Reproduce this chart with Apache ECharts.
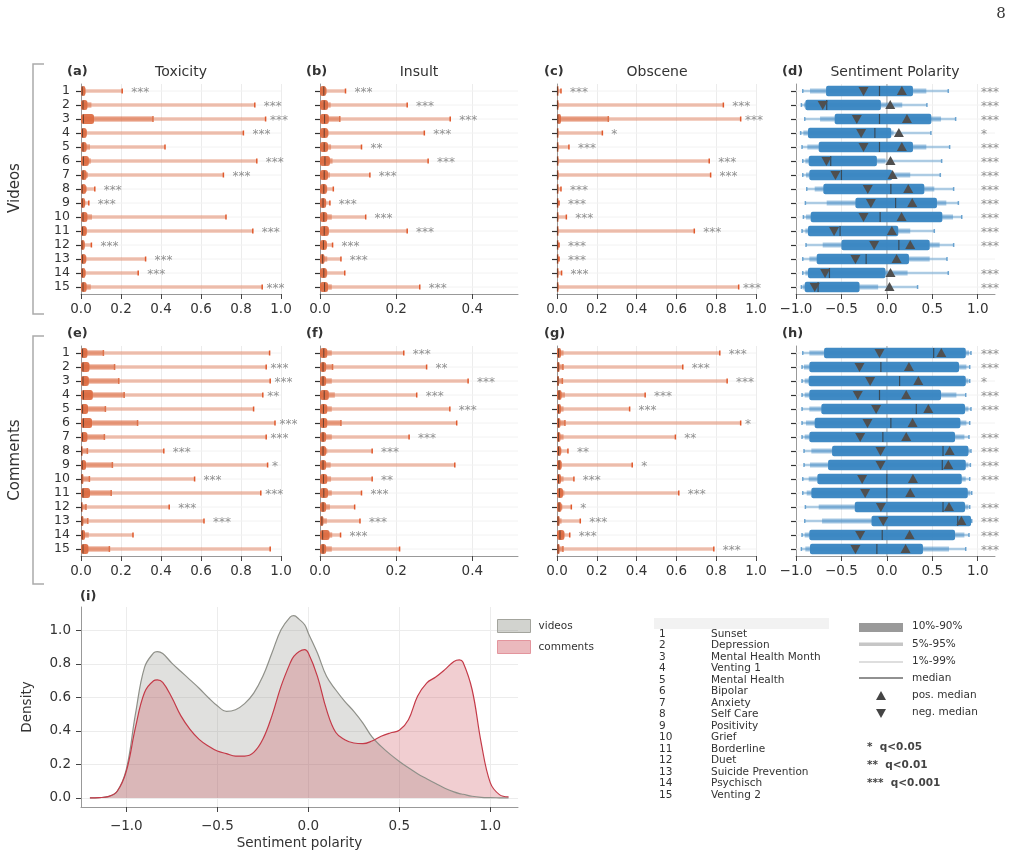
<!DOCTYPE html>
<html>
<head>
<meta charset="utf-8">
<script src="https://cdn.jsdelivr.net/npm/echarts@6.0.0/dist/echarts.min.js"></script>
<style>
html, body { margin: 0; padding: 0; background: #fff; }
#chart { width: 1014px; height: 856px; }
</style>
</head>
<body>
<div id="chart"></div>
<script>
// Data
const rowLabels = ['1','2','3','4','5','6','7','8','9','10','11','12','13','14','15'];
const topicNames = ['Sunset','Depression','Mental Health Month','Venting 1','Mental Health','Bipolar',
    'Anxiety','Self Care','Positivity','Grief','Borderline','Duet','Suicide Prevention','Psychisch','Venting 2'];

// score panels: [median, p90, p95, p99]  (lower quantiles are 0)
const toxicityVideos = [
    [0.006,0.022,0.022,0.206],[0.010,0.032,0.052,0.869],[0.012,0.065,0.360,0.923],[0.008,0.028,0.030,0.812],
    [0.010,0.028,0.045,0.420],[0.012,0.039,0.049,0.879],[0.010,0.028,0.035,0.712],[0.006,0.025,0.030,0.069],
    [0.006,0.020,0.022,0.039],[0.010,0.032,0.055,0.725],[0.008,0.028,0.030,0.859],[0.005,0.018,0.020,0.052],
    [0.008,0.025,0.028,0.323],[0.006,0.022,0.024,0.286],[0.010,0.028,0.049,0.906]];
const insultVideos = [
    [0.010,0.016,0.018,0.067],[0.011,0.021,0.028,0.229],[0.012,0.023,0.052,0.342],[0.011,0.021,0.023,0.274],
    [0.011,0.021,0.029,0.109],[0.013,0.026,0.033,0.284],[0.011,0.021,0.026,0.131],[0.010,0.018,0.019,0.035],
    [0.008,0.016,0.016,0.026],[0.010,0.019,0.031,0.120],[0.011,0.023,0.023,0.229],[0.009,0.018,0.018,0.033],
    [0.007,0.012,0.019,0.055],[0.010,0.018,0.019,0.065],[0.012,0.021,0.031,0.262]];
const obsceneVideos = [
    [0.002,0.005,0.008,0.020],[0.002,0.006,0.010,0.836],[0.004,0.020,0.258,0.923],[0.002,0.005,0.008,0.228],
    [0.002,0.005,0.008,0.060],[0.002,0.006,0.010,0.765],[0.002,0.006,0.010,0.772],[0.002,0.005,0.008,0.020],
    [0.002,0.004,0.006,0.010],[0.002,0.005,0.008,0.047],[0.002,0.005,0.008,0.690],[0.002,0.004,0.006,0.010],
    [0.002,0.004,0.006,0.010],[0.002,0.005,0.008,0.023],[0.002,0.006,0.010,0.913]];
const toxicityComments = [
    [0.008,0.032,0.112,0.943],[0.010,0.042,0.168,0.926],[0.010,0.039,0.189,0.946],[0.012,0.059,0.216,0.909],
    [0.008,0.035,0.122,0.863],[0.012,0.055,0.283,0.970],[0.008,0.032,0.117,0.926],[0.003,0.008,0.032,0.414],
    [0.006,0.025,0.157,0.933],[0.004,0.012,0.042,0.568],[0.010,0.045,0.151,0.899],[0.003,0.008,0.025,0.441],
    [0.004,0.012,0.034,0.615],[0.006,0.020,0.039,0.260],[0.010,0.037,0.142,0.946]];
const insultComments = [
    [0.010,0.019,0.031,0.220],[0.008,0.016,0.033,0.280],[0.008,0.016,0.031,0.389],[0.011,0.023,0.039,0.254],
    [0.009,0.019,0.031,0.341],[0.009,0.019,0.055,0.359],[0.008,0.016,0.031,0.234],[0.008,0.016,0.019,0.137],
    [0.008,0.016,0.028,0.354],[0.009,0.019,0.029,0.137],[0.010,0.021,0.031,0.109],[0.008,0.016,0.026,0.091],
    [0.005,0.009,0.018,0.105],[0.007,0.025,0.032,0.054],[0.008,0.016,0.031,0.209]];
const obsceneComments = [
    [0.008,0.020,0.033,0.818],[0.006,0.013,0.030,0.632],[0.005,0.010,0.027,0.855],[0.010,0.023,0.040,0.443],
    [0.008,0.020,0.033,0.365],[0.007,0.017,0.040,0.923],[0.007,0.017,0.033,0.595],[0.008,0.020,0.023,0.055],
    [0.010,0.023,0.023,0.378],[0.008,0.020,0.033,0.085],[0.012,0.030,0.037,0.612],[0.010,0.023,0.027,0.072],
    [0.005,0.013,0.023,0.117],[0.015,0.037,0.037,0.064],[0.005,0.013,0.030,0.788]];

// sentiment panels: [p1, p5, p10, median, p90, p95, p99, neg. median, pos. median]
const sentimentVideos = [
    [-0.926,-0.846,-0.669,-0.081,0.287,0.434,0.676,-0.257,0.165],
    [-0.941,-0.912,-0.897,-0.662,-0.066,0.169,0.441,-0.706,0.037],
    [-0.904,-0.735,-0.574,-0.081,0.489,0.596,0.757,-0.331,0.221],
    [-0.949,-0.919,-0.868,-0.132,0.048,0.074,0.485,-0.283,0.132],
    [-0.934,-0.875,-0.750,-0.081,0.287,0.434,0.691,-0.257,0.165],
    [-0.926,-0.897,-0.860,-0.618,-0.110,-0.015,0.603,-0.665,0.040],
    [-0.926,-0.890,-0.853,-0.500,0.059,0.257,0.588,-0.566,0.063],
    [-0.882,-0.794,-0.699,0.044,0.412,0.522,0.735,-0.210,0.235],
    [-0.897,-0.662,-0.346,0.096,0.551,0.654,0.787,-0.176,0.279],
    [-0.919,-0.890,-0.838,-0.074,0.610,0.728,0.824,-0.257,0.162],
    [-0.934,-0.897,-0.868,-0.515,0.125,0.257,0.522,-0.581,0.055],
    [-0.890,-0.706,-0.500,0.132,0.471,0.581,0.735,-0.140,0.257],
    [-0.926,-0.853,-0.772,-0.228,0.243,0.471,0.662,-0.346,0.107],
    [-0.926,-0.897,-0.868,-0.632,-0.015,0.228,0.676,-0.680,0.040],
    [-0.941,-0.926,-0.904,-0.757,-0.301,-0.096,0.338,-0.794,0.029]];
const sentimentComments = [
    [-0.926,-0.853,-0.691,0.515,0.868,0.904,0.926,-0.081,0.599],
    [-0.934,-0.912,-0.853,-0.066,0.794,0.875,0.912,-0.301,0.243],
    [-0.934,-0.904,-0.860,0.140,0.868,0.897,0.912,-0.184,0.346],
    [-0.934,-0.904,-0.853,-0.081,0.596,0.765,0.868,-0.320,0.213],
    [-0.934,-0.853,-0.721,0.324,0.860,0.897,0.926,-0.118,0.456],
    [-0.934,-0.890,-0.794,0.044,0.809,0.875,0.912,-0.213,0.283],
    [-0.934,-0.904,-0.853,-0.044,0.750,0.853,0.904,-0.294,0.213],
    [-0.912,-0.831,-0.603,0.618,0.897,0.912,0.926,-0.070,0.691],
    [-0.912,-0.846,-0.647,0.610,0.868,0.897,0.919,-0.070,0.676],
    [-0.926,-0.860,-0.765,0.000,0.824,0.868,0.912,-0.272,0.287],
    [-0.926,-0.882,-0.831,0.000,0.890,0.919,0.934,-0.239,0.257],
    [-0.897,-0.750,-0.353,0.618,0.860,0.897,0.912,-0.066,0.684],
    [-0.904,-0.713,-0.169,0.780,0.926,0.930,0.934,-0.040,0.820],
    [-0.934,-0.904,-0.853,-0.051,0.750,0.853,0.904,-0.294,0.250],
    [-0.941,-0.897,-0.846,-0.110,0.397,0.684,0.868,-0.346,0.206]];

const starsToxicityVideos = ['***','***','***','***','','***','***','***','***','','***','***','***','***','***'];
const starsInsultVideos = ['***','***','***','***','**','***','***','','***','***','***','***','***','','***'];
const starsObsceneVideos = ['***','***','***','*','***','***','***','***','***','***','***','***','***','***','***'];
const starsSentimentVideos = ['***','***','***','*','***','***','***','***','***','***','***','***','','***','***'];
const starsToxicityComments = ['','***','***','**','','***','***','***','*','***','***','***','***','',''];
const starsInsultComments = ['***','**','***','***','***','','***','***','','**','***','','***','***',''];
const starsObsceneComments = ['***','***','***','***','***','*','**','**','*','***','***','*','***','***','***'];
const starsSentimentComments = ['***','***','*','***','***','','***','***','***','***','','***','***','***','***'];

const scoreTicks = [0, 0.2, 0.4, 0.6, 0.8, 1.0];
const insultTicks = [0, 0.2, 0.4];
const sentimentTicks = [-1, -0.5, 0, 0.5, 1];

// density (panel i)
const densityX = [-1.2,-1.15,-1.1,-1.05,-1.0,-0.95,-0.9,-0.85,-0.83,-0.8,-0.75,-0.7,-0.65,-0.6,-0.55,-0.5,
    -0.45,-0.4,-0.35,-0.3,-0.25,-0.2,-0.15,-0.1,-0.08,-0.05,-0.02,0,0.05,0.1,0.15,0.2,0.25,0.3,0.35,0.4,
    0.45,0.5,0.55,0.6,0.65,0.7,0.75,0.8,0.83,0.85,0.9,0.95,1.0,1.05,1.1];
const densityVideos = [0,0.002,0.008,0.04,0.17,0.5,0.78,0.866,0.874,0.862,0.805,0.755,0.705,0.655,0.60,0.55,
    0.517,0.527,0.563,0.626,0.726,0.865,1.004,1.08,1.088,1.066,1.034,0.984,0.865,0.726,0.646,0.577,0.517,0.447,0.364,0.308,
    0.26,0.218,0.18,0.145,0.115,0.086,0.058,0.036,0.026,0.022,0.01,0.004,0.002,0.001,0];
const densityComments = [0,0.002,0.008,0.04,0.16,0.42,0.63,0.70,0.705,0.69,0.60,0.49,0.41,0.35,0.31,0.28,
    0.265,0.25,0.25,0.272,0.35,0.49,0.666,0.805,0.845,0.875,0.885,0.865,0.726,0.527,0.392,0.348,0.328,0.324,0.34,0.368,
    0.388,0.404,0.467,0.607,0.686,0.722,0.766,0.815,0.824,0.81,0.646,0.328,0.09,0.02,0.006];
const densityXTicks = [-1, -0.5, 0, 0.5, 1];
const densityYTicks = [0, 0.2, 0.4, 0.6, 0.8, 1.0];

// Style
const FONT = '"DejaVu Sans"';
const TXT = '#333333';
const ORANGE = [220, 106, 64];
const BLUE = [58, 134, 194];
const rgba = (c, a) => `rgba(${c[0]},${c[1]},${c[2]},${a})`;
const fmt = v => (v < 0 ? '\u2212' : '') + Math.abs(v).toFixed(1);

const colLefts = [81, 320, 557, 796];
const colWidths = [200, 198, 199, 199];
const colRanges = [[0, 1], [0, 0.52], [0, 1], [-1, 1.19]];
const colTicks = [scoreTicks, insultTicks, scoreTicks, sentimentTicks];
const rowTops = [84, 346];

const toFull = r => [0, 0, 0, r[0], r[1], r[2], r[3]];
const panels = [
    { rows: toxicityVideos.map(toFull), stars: starsToxicityVideos, sent: false, col: 0, row: 0 },
    { rows: insultVideos.map(toFull), stars: starsInsultVideos, sent: false, col: 1, row: 0 },
    { rows: obsceneVideos.map(toFull), stars: starsObsceneVideos, sent: false, col: 2, row: 0 },
    { rows: sentimentVideos, stars: starsSentimentVideos, sent: true, col: 3, row: 0 },
    { rows: toxicityComments.map(toFull), stars: starsToxicityComments, sent: false, col: 0, row: 1 },
    { rows: insultComments.map(toFull), stars: starsInsultComments, sent: false, col: 1, row: 1 },
    { rows: obsceneComments.map(toFull), stars: starsObsceneComments, sent: false, col: 2, row: 1 },
    { rows: sentimentComments, stars: starsSentimentComments, sent: true, col: 3, row: 1 },
];

function textEl(x, y, text, fill, font, align) {
    return {
        type: 'text', x: x, y: y,
        style: { text: text, fill: fill, font: font, align: align, textAlign: align,
                 verticalAlign: 'middle', textVerticalAlign: 'middle' }
    };
}

function triangle(x, y, up, fill) {
    const pts = up ? [[x, y - 5], [x - 5, y + 4], [x + 5, y + 4]]
                   : [[x, y + 5], [x - 5, y - 4], [x + 5, y - 4]];
    return { type: 'polygon', shape: { points: pts }, style: { fill: fill } };
}

function makeRenderer(p) {
    const range = colRanges[p.col];
    const span = range[1] - range[0];
    const col = p.sent ? BLUE : ORANGE;
    return function (params, api) {
        const i = api.value(0);
        const cs = params.coordSys;
        const yc = api.coord([0, i])[1];
        const X = v => api.coord([v, i])[0];
        const q = [1, 2, 3, 4, 5, 6, 7].map(k => api.value(k));
        const [p1, p5, p10, med, p90, p95, p99] = q;
        const rect = (a, b, h, fill, r) => ({
            type: 'rect',
            shape: { x: Math.min(X(a), X(b)), y: yc - h / 2, width: Math.max(Math.abs(X(b) - X(a)), 1.5), height: h, r: r || 0 },
            style: { fill: fill }
        });
        const kids = [];
        kids.push({ type: 'line', shape: { x1: cs.x, y1: yc, x2: cs.x + cs.width, y2: yc },
                    style: { stroke: '#f2f2f2', lineWidth: 1 } });
        if (p.sent) {
            kids.push(rect(p1, p99, 2.5, rgba(col, 0.4)));
            kids.push(rect(p5, p95, 5, rgba(col, 0.45)));
            kids.push(rect(p10, p90, 10.5, rgba(col, 0.97), 2));
            kids.push({ type: 'rect', shape: { x: X(p1) - 0.75, y: yc - 2, width: 1.5, height: 4 }, style: { fill: rgba(col, 0.7) } });
            kids.push({ type: 'rect', shape: { x: X(p99) - 0.75, y: yc - 2, width: 1.5, height: 4 }, style: { fill: rgba(col, 0.7) } });
            kids.push({ type: 'line', shape: { x1: X(med), y1: yc - 5, x2: X(med), y2: yc + 5 },
                        style: { stroke: 'rgba(55,55,55,0.75)', lineWidth: 1.2 } });
            kids.push(triangle(X(api.value(8)), yc, false, '#4f4f4f'));
            kids.push(triangle(X(api.value(9)), yc, true, '#4f4f4f'));
        } else {
            kids.push(rect(p1, p99, 3.5, rgba(col, 0.42)));
            kids.push(rect(p5, p95, 5.5, rgba(col, 0.5)));
            kids.push(rect(p10, p90, 10, rgba(col, 0.92), 2.5));
            kids.push({ type: 'rect', shape: { x: X(p99) - 0.75, y: yc - 2.5, width: 1.5, height: 5 }, style: { fill: '#e0582a' } });
            if (p95 > p90 * 2) {
                kids.push({ type: 'rect', shape: { x: X(p95) - 0.75, y: yc - 3, width: 1.5, height: 6 }, style: { fill: rgba(col, 0.9) } });
            }
            kids.push({ type: 'line', shape: { x1: X(med), y1: yc - 4.5, x2: X(med), y2: yc + 4.5 },
                        style: { stroke: 'rgba(70,50,40,0.8)', lineWidth: 1 } });
        }
        const s = p.stars[params.dataIndex];
        if (s) {
            let sx;
            if (p.sent) sx = 1.035;
            else sx = p99 + (p99 > range[0] + 0.88 * span ? 0.022 : 0.045) * span;
            kids.push(textEl(X(sx), yc + 2, s, '#909090', '12px ' + FONT, 'left'));
        }
        return { type: 'group', children: kids };
    };
}

const grids = [], xAxes = [], yAxes = [], series = [];

panels.forEach((p, k) => {
    grids.push({ left: colLefts[p.col], top: rowTops[p.row], width: colWidths[p.col], height: 210 });
    xAxes.push({
        type: 'value', gridIndex: k, min: colRanges[p.col][0], max: colRanges[p.col][1],
        axisLine: { show: true, onZero: false, lineStyle: { color: '#999', width: 1 } },
        axisTick: { show: true, length: 5, customValues: colTicks[p.col], lineStyle: { color: '#444', width: 1 } },
        axisLabel: { customValues: colTicks[p.col], formatter: fmt, fontSize: 13.5, color: TXT, fontFamily: 'DejaVu Sans', margin: 8 },
        splitLine: { show: true, lineStyle: { color: '#ececec', width: 1 } }
    });
    yAxes.push({
        type: 'category', gridIndex: k, data: rowLabels, inverse: true, boundaryGap: true,
        axisLine: { show: true, onZero: false, lineStyle: { color: '#999', width: 1 } },
        axisTick: { show: true, alignWithLabel: true, interval: 0, length: 5, lineStyle: { color: '#333', width: 1.2 } },
        axisLabel: { show: p.col === 0, interval: 0, fontSize: 12.5, color: TXT, fontFamily: 'DejaVu Sans', margin: 11 },
        splitLine: { show: false }
    });
    if (p.sent) {
        series.push({
            type: 'custom', xAxisIndex: k, yAxisIndex: k, silent: true, clip: false,
            data: [[0, 0]], encode: { x: 0, y: 1 },
            renderItem: (params, api) => {
                const cs = params.coordSys;
                const x = api.coord([0, 0])[0];
                return { type: 'line', shape: { x1: x, y1: cs.y, x2: x, y2: cs.y + cs.height },
                         style: { stroke: '#ababab', lineWidth: 1 } };
            }
        });
    }
    series.push({
        type: 'custom', xAxisIndex: k, yAxisIndex: k, silent: true, clip: false,
        data: p.rows.map((r, i) => [i].concat(r)),
        encode: { y: 0, x: [1, 2, 3, 4, 5, 6, 7] },
        renderItem: makeRenderer(p)
    });
});

// panel (i)
const di = panels.length;
grids.push({ left: 81, top: 607, width: 437, height: 200 });
xAxes.push({
    type: 'value', gridIndex: di, min: -1.249, max: 1.152,
    name: 'Sentiment polarity', nameLocation: 'middle', nameGap: 29,
    nameTextStyle: { fontSize: 13.5, color: TXT, fontFamily: 'DejaVu Sans' },
    axisLine: { show: true, onZero: false, lineStyle: { color: '#999' } },
    axisTick: { show: true, length: 5, customValues: densityXTicks, lineStyle: { color: '#444' } },
    axisLabel: { customValues: densityXTicks, formatter: fmt, fontSize: 13.5, color: TXT, fontFamily: 'DejaVu Sans', margin: 12 },
    splitLine: { show: true, lineStyle: { color: '#ececec' } }
});
yAxes.push({
    type: 'value', gridIndex: di, min: -0.054, max: 1.14,
    name: 'Density', nameLocation: 'middle', nameGap: 47, nameRotate: 90,
    nameTextStyle: { fontSize: 13.5, color: TXT, fontFamily: 'DejaVu Sans' },
    axisLine: { show: true, onZero: false, lineStyle: { color: '#999' } },
    axisTick: { show: true, length: 5, customValues: densityYTicks, lineStyle: { color: '#444' } },
    axisLabel: { customValues: densityYTicks, formatter: fmt, fontSize: 13.5, color: TXT, fontFamily: 'DejaVu Sans', margin: 10 },
    splitLine: { show: true, lineStyle: { color: '#ececec' } }
});
series.push({
    type: 'line', name: 'videos', xAxisIndex: di, yAxisIndex: di,
    data: densityX.map((x, i) => [x, densityVideos[i]]),
    smooth: 0.4, symbol: 'none', silent: true,
    lineStyle: { color: '#8f9089', width: 1.2 }, itemStyle: { color: '#8f9089' },
    areaStyle: { color: 'rgba(143,144,136,0.4)', origin: 0 }
});
series.push({
    type: 'line', name: 'comments', xAxisIndex: di, yAxisIndex: di,
    data: densityX.map((x, i) => [x, densityComments[i]]),
    smooth: 0.4, symbol: 'none', silent: true,
    lineStyle: { color: '#c43a48', width: 1.2 }, itemStyle: { color: '#c43a48' },
    areaStyle: { color: 'rgba(200,64,76,0.37)', origin: 0 }
});

// Text, brackets and keys
const graphics = [];
const addText = (x, y, text, size, opts) => {
    opts = opts || {};
    const el = textEl(x, y, text, opts.color || TXT,
        (opts.bold ? 'bold ' : '') + size + 'px ' + (opts.family || FONT), opts.align || 'left');
    if (opts.rot) el.rotation = opts.rot;
    graphics.push(el);
};

addText(1001, 14, '8', 15, { family: '"DejaVu Serif"', align: 'center' });

const letters = ['(a)', '(b)', '(c)', '(d)', '(e)', '(f)', '(g)', '(h)'];
const titles = ['Toxicity', 'Insult', 'Obscene', 'Sentiment Polarity'];
const letterX = [67, 306, 544, 782];
const titleX = [181, 419, 657, 895];
panels.forEach((p, k) => {
    const y = p.row === 0 ? 72 : 334;
    addText(letterX[p.col], y, letters[k], 13, { bold: true });
    if (p.row === 0) addText(titleX[p.col], y, titles[p.col], 14, { align: 'center' });
});
addText(80, 597, '(i)', 13, { bold: true });

addText(15, 188, 'Videos', 15, { align: 'center', rot: Math.PI / 2 });
addText(15, 460, 'Comments', 15, { align: 'center', rot: Math.PI / 2 });
graphics.push({ type: 'polyline', shape: { points: [[44, 64], [33, 64], [33, 314], [44, 314]] },
                style: { stroke: '#ababab', lineWidth: 1.5, fill: null } });
graphics.push({ type: 'polyline', shape: { points: [[44, 336], [33, 336], [33, 584], [44, 584]] },
                style: { stroke: '#ababab', lineWidth: 1.5, fill: null } });

// topic key
graphics.push({ type: 'rect', shape: { x: 654, y: 618, width: 175, height: 11 }, style: { fill: '#f2f2f2' } });
topicNames.forEach((name, i) => {
    const y = 634 + i * 11.5;
    addText(659, y, rowLabels[i], 10.5);
    addText(711, y, name, 10.5);
});

// quantile key
graphics.push({ type: 'rect', shape: { x: 859, y: 623, width: 44, height: 9 }, style: { fill: '#9a9a9a' } });
addText(912, 626, '10%-90%', 10.5);
graphics.push({ type: 'rect', shape: { x: 859, y: 642.5, width: 44, height: 3.5 }, style: { fill: '#c6c6c6' } });
addText(912, 644, '5%-95%', 10.5);
graphics.push({ type: 'rect', shape: { x: 859, y: 661, width: 44, height: 2 }, style: { fill: '#dedede' } });
addText(912, 661, '1%-99%', 10.5);
graphics.push({ type: 'line', shape: { x1: 859, y1: 678, x2: 903, y2: 678 }, style: { stroke: '#222', lineWidth: 1 } });
addText(912, 678, 'median', 10.5);
graphics.push(triangle(881, 696, true, '#444'));
addText(912, 695, 'pos. median', 10.5);
graphics.push(triangle(881, 713, false, '#444'));
addText(912, 712, 'neg. median', 10.5);
addText(867, 747, '*  q<0.05', 10.5, { bold: true, color: '#444' });
addText(867, 765, '**  q<0.01', 10.5, { bold: true, color: '#444' });
addText(867, 783, '***  q<0.001', 10.5, { bold: true, color: '#444' });

const chart = echarts.init(document.getElementById('chart'));
chart.setOption({
    animation: false,
    backgroundColor: '#fff',
    textStyle: { fontFamily: 'DejaVu Sans' },
    grid: grids,
    xAxis: xAxes,
    yAxis: yAxes,
    legend: {
        left: 497, top: 619, orient: 'vertical', padding: 0,
        itemWidth: 33, itemHeight: 13, itemGap: 7, icon: 'rect',
        textStyle: { fontSize: 10.5, color: TXT, fontFamily: 'DejaVu Sans', padding: [0, 0, 0, 3] },
        data: [
            { name: 'videos', itemStyle: { color: 'rgba(143,144,136,0.4)', borderColor: '#a3a49d', borderWidth: 1 } },
            { name: 'comments', itemStyle: { color: 'rgba(200,64,76,0.37)', borderColor: '#e3959d', borderWidth: 1 } }
        ]
    },
    graphic: { elements: graphics },
    series: series
});
</script>
</body>
</html>
